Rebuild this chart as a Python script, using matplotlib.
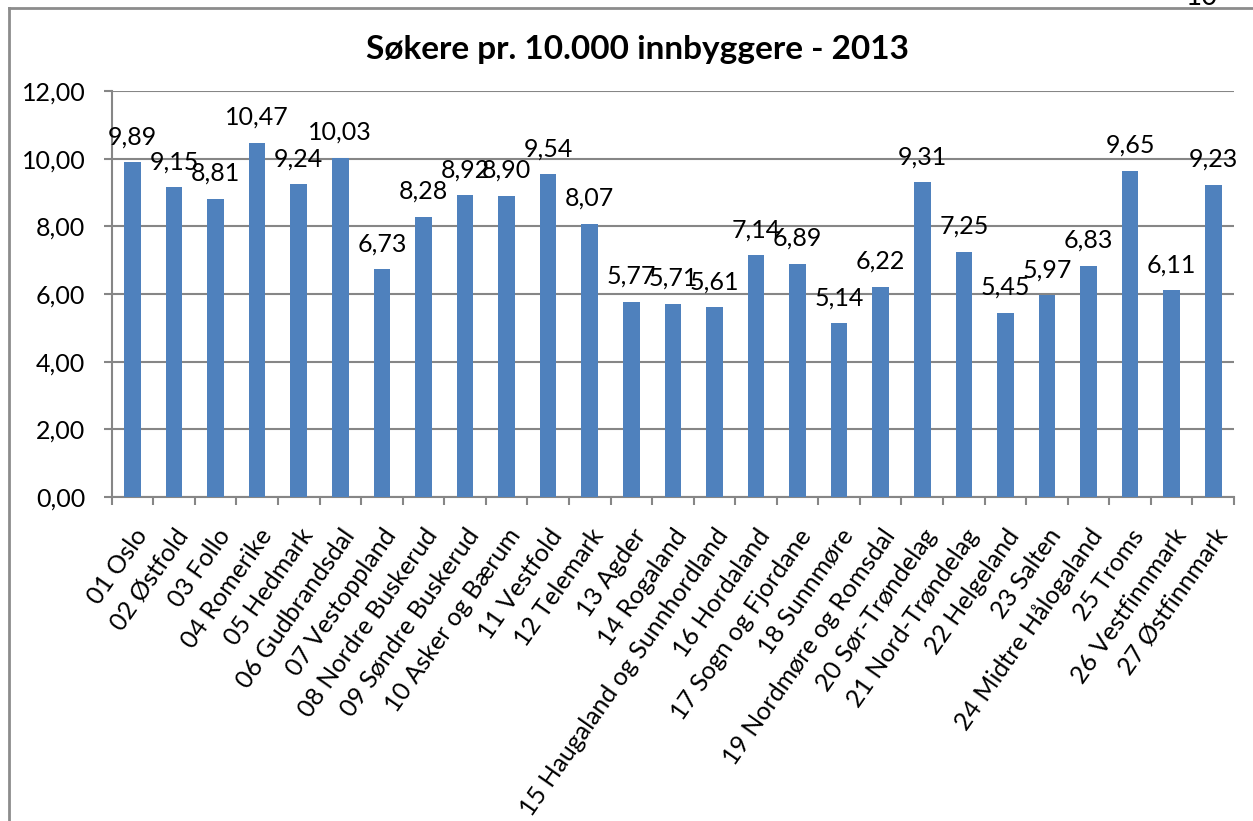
import matplotlib
matplotlib.use("Agg")
import matplotlib.pyplot as plt
from matplotlib.lines import Line2D
from matplotlib.transforms import ScaledTranslation
import numpy as np

categories = ["01 Oslo", "02 Østfold", "03 Follo", "04 Romerike", "05 Hedmark",
              "06 Gudbrandsdal", "07 Vestoppland", "08 Nordre Buskerud",
              "09 Søndre Buskerud", "10 Asker og Bærum", "11 Vestfold",
              "12 Telemark", "13 Agder", "14 Rogaland",
              "15 Haugaland og Sunnhordland", "16 Hordaland",
              "17 Sogn og Fjordane", "18 Sunnmøre", "19 Nordmøre og Romsdal",
              "20 Sør-Trøndelag", "21 Nord-Trøndelag", "22 Helgeland",
              "23 Salten", "24 Midtre Hålogaland", "25 Troms",
              "26 Vestfinnmark", "27 Østfinnmark"]
values = [9.89, 9.15, 8.81, 10.47, 9.24, 10.03, 6.73, 8.28, 8.92, 8.90, 9.54,
          8.07, 5.77, 5.71, 5.61, 7.14, 6.89, 5.14, 6.22, 9.31, 7.25, 5.45,
          5.97, 6.83, 9.65, 6.11, 9.23]
yticks = [0, 2, 4, 6, 8, 10, 12]
title = "Søkere pr. 10.000 innbyggere - 2013"

plt.rcParams['font.family'] = ['Lato', 'DejaVu Sans']

W, H = 1253, 821
fig = plt.figure(figsize=(W / 100, H / 100), dpi=100)
fig.patch.set_facecolor("white")
ax = fig.add_axes([111.7 / W, 1 - 497 / H, (1234 - 111.7) / W, (497 - 91) / H])

grid_c = "#868686"
lw = 1.5
fs = 18
x = np.arange(len(categories))
ax.bar(x, values, width=0.4, color="#4F81BD", zorder=3)
ax.set_xlim(-0.5, len(categories) - 0.5)
ax.set_ylim(0, 12)
ax.set_yticks(yticks)
ax.set_yticklabels([f"{v:.2f}".replace(".", ",") for v in yticks], fontsize=fs)
ax.yaxis.grid(True, color=grid_c, linewidth=lw, zorder=0)
ax.set_axisbelow(True)

ax.set_xticks(x)
ax.set_xticklabels(categories, rotation=55, ha="right", va="top",
                   rotation_mode="anchor", fontsize=fs)
offset = ScaledTranslation(6 / 100, 0, fig.dpi_scale_trans)
for lab in ax.get_xticklabels():
    lab.set_transform(lab.get_transform() + offset)
ax.set_xticks(np.arange(len(categories) + 1) - 0.5, minor=True)
ax.tick_params(axis="x", which="major", length=0, pad=20)
ax.tick_params(axis="x", which="minor", length=6, width=lw, color=grid_c,
               direction="out")
ax.tick_params(axis="y", length=6, width=lw, color=grid_c, pad=13)

for s in ["top", "right"]:
    ax.spines[s].set_visible(False)
for s in ["left", "bottom"]:
    ax.spines[s].set_color(grid_c)
    ax.spines[s].set_linewidth(lw)

for xi, v in zip(x, values):
    ax.annotate(f"{v:.2f}".replace(".", ","), (xi, v), xytext=(0, 10),
                textcoords="offset points", ha="center", va="bottom",
                fontsize=fs)

fig.text(638 / W, 1 - 50 / H, title, ha="center", va="center",
         fontsize=24, fontweight="bold")

# outer frame (left and top)
fig.add_artist(Line2D([9 / W, 9 / W], [0, 1 - 8 / H], color="#8c8c8c",
                      linewidth=2, transform=fig.transFigure))
fig.add_artist(Line2D([9 / W, 1], [1 - 8 / H, 1 - 8 / H], color="#8c8c8c",
                      linewidth=2, transform=fig.transFigure))
# cut-off page number
fig.text(1202 / W, 1 - 5 / H, "10", ha="center", va="baseline", fontsize=20)

fig.savefig("out.png", dpi=100, facecolor="white")
